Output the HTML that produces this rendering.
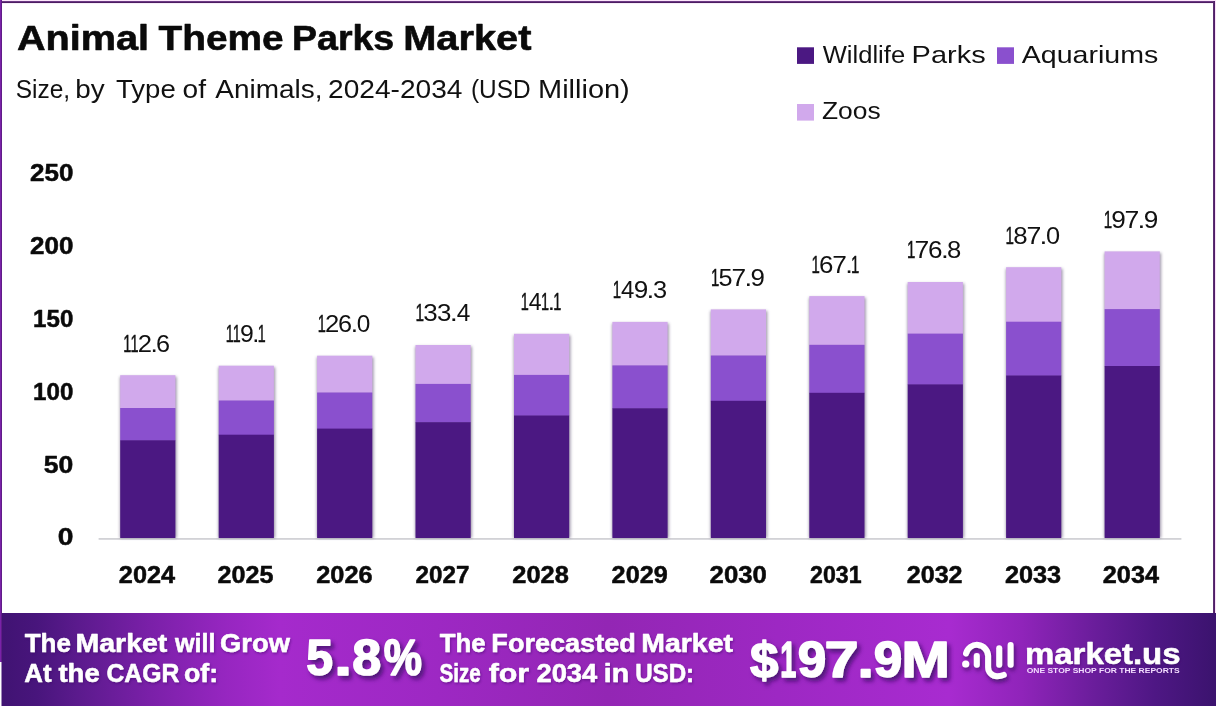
<!DOCTYPE html>
<html lang="en"><head><meta charset="utf-8"><title>Animal Theme Parks Market</title>
<style>html,body{margin:0;padding:0;background:#fff}body{width:1216px;height:708px;overflow:hidden;font-family:"Liberation Sans",sans-serif}svg{display:block}text{font-family:"Liberation Sans",sans-serif}</style>
</head><body>
<svg width="1216" height="708" viewBox="0 0 1216 708">
<defs>
<linearGradient id="fg" x1="0" y1="0" x2="1216" y2="0" gradientUnits="userSpaceOnUse">
<stop offset="0" stop-color="#401372"/>
<stop offset="0.03" stop-color="#48157c"/>
<stop offset="0.062" stop-color="#5a1a8c"/>
<stop offset="0.123" stop-color="#7a20a8"/>
<stop offset="0.185" stop-color="#9626c0"/>
<stop offset="0.23" stop-color="#a52acc"/>
<stop offset="0.36" stop-color="#9d28c3"/>
<stop offset="0.5" stop-color="#9326b4"/>
<stop offset="0.64" stop-color="#9d28c3"/>
<stop offset="0.78" stop-color="#a82bd0"/>
<stop offset="0.84" stop-color="#9024ba"/>
<stop offset="0.90" stop-color="#6a1d9b"/>
<stop offset="0.95" stop-color="#4e1784"/>
<stop offset="1" stop-color="#3b136e"/>
</linearGradient>
<filter id="bs" x="-20%" y="-5%" width="140%" height="110%"><feGaussianBlur stdDeviation="1.6"/></filter>
<filter id="ts" x="-10%" y="-20%" width="120%" height="150%"><feDropShadow dx="3" dy="3.5" stdDeviation="2.2" flood-color="#3a0d66" flood-opacity="0.8"/></filter>
<filter id="fs" x="-5%" y="-20%" width="110%" height="150%"><feDropShadow dx="1" dy="1.5" stdDeviation="1.3" flood-color="#3a0d66" flood-opacity="0.45"/></filter>
<filter id="ls" x="-20%" y="-20%" width="140%" height="160%"><feDropShadow dx="1.5" dy="3" stdDeviation="2.2" flood-color="#2e0a55" flood-opacity="0.7"/></filter>
</defs>
<rect x="0" y="0" width="1216" height="708" fill="#ffffff"/>
<rect x="0" y="0" width="1216" height="1" fill="#fde6fb"/>
<rect x="0" y="1" width="1215" height="1" fill="#6c3a84"/>
<rect x="0" y="2" width="1215" height="1" fill="#4d1c63"/>
<rect x="2" y="3" width="1211" height="1" fill="#f6eef8"/>
<rect x="1213" y="1" width="1" height="612" fill="#5c2f72"/>
<rect x="1214" y="1" width="1" height="612" fill="#4f1e68"/>
<rect x="1215" y="0" width="1" height="613" fill="#fbe0fa"/>
<text y="49.8" font-size="34.3" font-weight="700" fill="#0a0a0a" stroke="#0a0a0a" stroke-width="0.6" stroke-linejoin="round"><tspan x="16.91" textLength="132.09" lengthAdjust="spacingAndGlyphs">Animal</tspan> <tspan x="158.56" textLength="125.16" lengthAdjust="spacingAndGlyphs">Theme</tspan> <tspan x="291.99" textLength="102.25" lengthAdjust="spacingAndGlyphs">Parks</tspan> <tspan x="403.24" textLength="128.25" lengthAdjust="spacingAndGlyphs">Market</tspan></text>
<text y="97.5" font-size="25.1" font-weight="400" fill="#111" ><tspan x="15.69" textLength="54.41" lengthAdjust="spacingAndGlyphs">Size,</tspan> <tspan x="75.30" textLength="29.45" lengthAdjust="spacingAndGlyphs">by</tspan> <tspan x="116.00" textLength="59.70" lengthAdjust="spacingAndGlyphs">Type</tspan> <tspan x="182.52" textLength="23.44" lengthAdjust="spacingAndGlyphs">of</tspan> <tspan x="215.25" textLength="107.27" lengthAdjust="spacingAndGlyphs">Animals,</tspan> <tspan x="328.09" textLength="134.44" lengthAdjust="spacingAndGlyphs">2024-2034</tspan> <tspan x="470.99" textLength="59.68" lengthAdjust="spacingAndGlyphs">(USD</tspan> <tspan x="538.02" textLength="91.77" lengthAdjust="spacingAndGlyphs">Million)</tspan></text>
<rect x="797" y="47.3" width="17" height="16.6" fill="#4b1882"/>
<rect x="997" y="47.3" width="17" height="16.6" fill="#8a50ce"/>
<rect x="797" y="104" width="17" height="16.6" fill="#d1a9ec"/>
<text y="62.9" font-size="24.6" font-weight="400" fill="#111" ><tspan x="822.69" textLength="82.45" lengthAdjust="spacingAndGlyphs">Wildlife</tspan> <tspan x="911.62" textLength="74.02" lengthAdjust="spacingAndGlyphs">Parks</tspan></text>
<text y="62.9" font-size="24.6" font-weight="400" fill="#111" ><tspan x="1021.74" textLength="136.59" lengthAdjust="spacingAndGlyphs">Aquariums</tspan></text>
<text y="119.1" font-size="24.6" font-weight="400" fill="#111" ><tspan x="821.96" textLength="58.69" lengthAdjust="spacingAndGlyphs">Zoos</tspan></text>
<text y="180.7" font-size="23.6" font-weight="700" fill="#0a0a0a" stroke="#0a0a0a" stroke-width="0.5" stroke-linejoin="round"><tspan x="30.00" textLength="43.37" lengthAdjust="spacingAndGlyphs">250</tspan></text>
<text y="253.6" font-size="23.6" font-weight="700" fill="#0a0a0a" stroke="#0a0a0a" stroke-width="0.5" stroke-linejoin="round"><tspan x="30.00" textLength="43.37" lengthAdjust="spacingAndGlyphs">200</tspan></text>
<text y="326.7" font-size="23.6" font-weight="700" fill="#0a0a0a" stroke="#0a0a0a" stroke-width="0.5" stroke-linejoin="round"><tspan x="33.08" textLength="40.21" lengthAdjust="spacingAndGlyphs">150</tspan></text>
<text y="399.7" font-size="23.6" font-weight="700" fill="#0a0a0a" stroke="#0a0a0a" stroke-width="0.5" stroke-linejoin="round"><tspan x="33.08" textLength="40.21" lengthAdjust="spacingAndGlyphs">100</tspan></text>
<text y="472.5" font-size="23.6" font-weight="700" fill="#0a0a0a" stroke="#0a0a0a" stroke-width="0.5" stroke-linejoin="round"><tspan x="43.88" textLength="29.50" lengthAdjust="spacingAndGlyphs">50</tspan></text>
<text y="544.6" font-size="23.6" font-weight="700" fill="#0a0a0a" stroke="#0a0a0a" stroke-width="0.5" stroke-linejoin="round"><tspan x="57.79" textLength="15.67" lengthAdjust="spacingAndGlyphs">0</tspan></text>
<rect x="98.6" y="538" width="1082.8" height="1.8" fill="#d2d2d6"/>
<rect x="119.9" y="376.7" width="56.8" height="161.3" fill="#655878" opacity="0.62" filter="url(#bs)"/>
<rect x="120.2" y="375.2" width="55.2" height="33.3" fill="#d1a9ec"/>
<rect x="120.2" y="408.0" width="55.2" height="32.8" fill="#8a50ce"/>
<rect x="120.2" y="440.3" width="55.2" height="97.7" fill="#4b1882"/>
<text y="351.6" font-size="23.6" font-weight="400" fill="#111" ><tspan x="123.34" textLength="8.09" lengthAdjust="spacingAndGlyphs" stroke="#111" stroke-width="0.5">1</tspan><tspan x="130.52" textLength="8.09" lengthAdjust="spacingAndGlyphs" stroke="#111" stroke-width="0.5">1</tspan><tspan x="137.76" textLength="14.25" lengthAdjust="spacingAndGlyphs">2</tspan><tspan x="150.42" textLength="7.32" lengthAdjust="spacingAndGlyphs">.</tspan><tspan x="156.14" textLength="14.07" lengthAdjust="spacingAndGlyphs">6</tspan></text>
<text y="582.6" font-size="23.6" font-weight="700" fill="#0a0a0a" stroke="#0a0a0a" stroke-width="0.5" stroke-linejoin="round"><tspan x="118.82" textLength="56.31" lengthAdjust="spacingAndGlyphs">2024</tspan></text>
<rect x="218.4" y="367.2" width="56.8" height="170.8" fill="#655878" opacity="0.62" filter="url(#bs)"/>
<rect x="218.7" y="365.7" width="55.2" height="35.2" fill="#d1a9ec"/>
<rect x="218.7" y="400.5" width="55.2" height="34.7" fill="#8a50ce"/>
<rect x="218.7" y="434.7" width="55.2" height="103.3" fill="#4b1882"/>
<text y="342.1" font-size="23.6" font-weight="400" fill="#111" ><tspan x="225.66" textLength="7.93" lengthAdjust="spacingAndGlyphs" stroke="#111" stroke-width="0.5">1</tspan><tspan x="232.71" textLength="7.93" lengthAdjust="spacingAndGlyphs" stroke="#111" stroke-width="0.5">1</tspan><tspan x="239.94" textLength="13.78" lengthAdjust="spacingAndGlyphs">9</tspan><tspan x="252.32" textLength="7.04" lengthAdjust="spacingAndGlyphs">.</tspan><tspan x="257.82" textLength="7.93" lengthAdjust="spacingAndGlyphs" stroke="#111" stroke-width="0.5">1</tspan></text>
<text y="582.6" font-size="23.6" font-weight="700" fill="#0a0a0a" stroke="#0a0a0a" stroke-width="0.5" stroke-linejoin="round"><tspan x="217.53" textLength="55.87" lengthAdjust="spacingAndGlyphs">2025</tspan></text>
<rect x="316.8" y="357.2" width="56.8" height="180.8" fill="#655878" opacity="0.62" filter="url(#bs)"/>
<rect x="317.1" y="355.7" width="55.2" height="37.2" fill="#d1a9ec"/>
<rect x="317.1" y="392.5" width="55.2" height="36.7" fill="#8a50ce"/>
<rect x="317.1" y="428.6" width="55.2" height="109.4" fill="#4b1882"/>
<text y="332.1" font-size="23.6" font-weight="400" fill="#111" ><tspan x="317.74" textLength="8.09" lengthAdjust="spacingAndGlyphs" stroke="#111" stroke-width="0.5">1</tspan><tspan x="324.99" textLength="14.25" lengthAdjust="spacingAndGlyphs">2</tspan><tspan x="338.06" textLength="14.07" lengthAdjust="spacingAndGlyphs">6</tspan><tspan x="350.72" textLength="7.32" lengthAdjust="spacingAndGlyphs">.</tspan><tspan x="356.77" textLength="13.58" lengthAdjust="spacingAndGlyphs">0</tspan></text>
<text y="582.6" font-size="23.6" font-weight="700" fill="#0a0a0a" stroke="#0a0a0a" stroke-width="0.5" stroke-linejoin="round"><tspan x="316.22" textLength="56.39" lengthAdjust="spacingAndGlyphs">2026</tspan></text>
<rect x="415.2" y="346.5" width="56.8" height="191.5" fill="#655878" opacity="0.62" filter="url(#bs)"/>
<rect x="415.5" y="345.0" width="55.2" height="39.4" fill="#d1a9ec"/>
<rect x="415.5" y="383.9" width="55.2" height="38.8" fill="#8a50ce"/>
<rect x="415.5" y="422.2" width="55.2" height="115.8" fill="#4b1882"/>
<text y="321.4" font-size="23.6" font-weight="400" fill="#111" ><tspan x="415.38" textLength="8.54" lengthAdjust="spacingAndGlyphs" stroke="#111" stroke-width="0.5">1</tspan><tspan x="423.33" textLength="14.43" lengthAdjust="spacingAndGlyphs">3</tspan><tspan x="437.04" textLength="14.43" lengthAdjust="spacingAndGlyphs">3</tspan><tspan x="449.78" textLength="8.07" lengthAdjust="spacingAndGlyphs">.</tspan><tspan x="456.74" textLength="13.58" lengthAdjust="spacingAndGlyphs">4</tspan></text>
<text y="582.6" font-size="23.6" font-weight="700" fill="#0a0a0a" stroke="#0a0a0a" stroke-width="0.5" stroke-linejoin="round"><tspan x="415.56" textLength="53.90" lengthAdjust="spacingAndGlyphs">2027</tspan></text>
<rect x="513.7" y="335.3" width="56.8" height="202.7" fill="#655878" opacity="0.62" filter="url(#bs)"/>
<rect x="514.0" y="333.8" width="55.2" height="41.6" fill="#d1a9ec"/>
<rect x="514.0" y="374.9" width="55.2" height="41.0" fill="#8a50ce"/>
<rect x="514.0" y="415.5" width="55.2" height="122.5" fill="#4b1882"/>
<text y="310.2" font-size="23.6" font-weight="400" fill="#111" ><tspan x="520.75" textLength="8.05" lengthAdjust="spacingAndGlyphs" stroke="#111" stroke-width="0.5">1</tspan><tspan x="528.71" textLength="12.81" lengthAdjust="spacingAndGlyphs">4</tspan><tspan x="540.89" textLength="8.05" lengthAdjust="spacingAndGlyphs" stroke="#111" stroke-width="0.5">1</tspan><tspan x="547.70" textLength="7.24" lengthAdjust="spacingAndGlyphs">.</tspan><tspan x="553.31" textLength="8.05" lengthAdjust="spacingAndGlyphs" stroke="#111" stroke-width="0.5">1</tspan></text>
<text y="582.6" font-size="23.6" font-weight="700" fill="#0a0a0a" stroke="#0a0a0a" stroke-width="0.5" stroke-linejoin="round"><tspan x="512.32" textLength="56.56" lengthAdjust="spacingAndGlyphs">2028</tspan></text>
<rect x="612.1" y="323.4" width="56.8" height="214.6" fill="#655878" opacity="0.62" filter="url(#bs)"/>
<rect x="612.4" y="321.9" width="55.2" height="44.0" fill="#d1a9ec"/>
<rect x="612.4" y="365.4" width="55.2" height="43.4" fill="#8a50ce"/>
<rect x="612.4" y="408.3" width="55.2" height="129.7" fill="#4b1882"/>
<text y="298.3" font-size="23.6" font-weight="400" fill="#111" ><tspan x="612.80" textLength="8.36" lengthAdjust="spacingAndGlyphs" stroke="#111" stroke-width="0.5">1</tspan><tspan x="621.03" textLength="13.30" lengthAdjust="spacingAndGlyphs">4</tspan><tspan x="633.81" textLength="14.51" lengthAdjust="spacingAndGlyphs">9</tspan><tspan x="646.63" textLength="7.77" lengthAdjust="spacingAndGlyphs">.</tspan><tspan x="652.98" textLength="14.14" lengthAdjust="spacingAndGlyphs">3</tspan></text>
<text y="582.6" font-size="23.6" font-weight="700" fill="#0a0a0a" stroke="#0a0a0a" stroke-width="0.5" stroke-linejoin="round"><tspan x="611.63" textLength="56.11" lengthAdjust="spacingAndGlyphs">2029</tspan></text>
<rect x="710.5" y="310.9" width="56.8" height="227.1" fill="#655878" opacity="0.62" filter="url(#bs)"/>
<rect x="710.8" y="309.4" width="55.2" height="46.5" fill="#d1a9ec"/>
<rect x="710.8" y="355.5" width="55.2" height="45.9" fill="#8a50ce"/>
<rect x="710.8" y="400.8" width="55.2" height="137.2" fill="#4b1882"/>
<text y="285.8" font-size="23.6" font-weight="400" fill="#111" ><tspan x="710.91" textLength="8.29" lengthAdjust="spacingAndGlyphs" stroke="#111" stroke-width="0.5">1</tspan><tspan x="718.62" textLength="14.02" lengthAdjust="spacingAndGlyphs">5</tspan><tspan x="731.63" textLength="14.62" lengthAdjust="spacingAndGlyphs">7</tspan><tspan x="744.52" textLength="7.65" lengthAdjust="spacingAndGlyphs">.</tspan><tspan x="750.54" textLength="14.39" lengthAdjust="spacingAndGlyphs">9</tspan></text>
<text y="582.6" font-size="23.6" font-weight="700" fill="#0a0a0a" stroke="#0a0a0a" stroke-width="0.5" stroke-linejoin="round"><tspan x="709.61" textLength="57.25" lengthAdjust="spacingAndGlyphs">2030</tspan></text>
<rect x="809.0" y="297.6" width="56.8" height="240.4" fill="#655878" opacity="0.62" filter="url(#bs)"/>
<rect x="809.3" y="296.1" width="55.2" height="49.2" fill="#d1a9ec"/>
<rect x="809.3" y="344.8" width="55.2" height="48.5" fill="#8a50ce"/>
<rect x="809.3" y="392.8" width="55.2" height="145.2" fill="#4b1882"/>
<text y="272.5" font-size="23.6" font-weight="400" fill="#111" ><tspan x="811.61" textLength="8.30" lengthAdjust="spacingAndGlyphs" stroke="#111" stroke-width="0.5">1</tspan><tspan x="819.02" textLength="14.41" lengthAdjust="spacingAndGlyphs">6</tspan><tspan x="832.34" textLength="14.63" lengthAdjust="spacingAndGlyphs">7</tspan><tspan x="845.23" textLength="7.65" lengthAdjust="spacingAndGlyphs">.</tspan><tspan x="851.08" textLength="8.30" lengthAdjust="spacingAndGlyphs" stroke="#111" stroke-width="0.5">1</tspan></text>
<text y="582.6" font-size="23.6" font-weight="700" fill="#0a0a0a" stroke="#0a0a0a" stroke-width="0.5" stroke-linejoin="round"><tspan x="810.10" textLength="51.45" lengthAdjust="spacingAndGlyphs">2031</tspan></text>
<rect x="907.4" y="283.5" width="56.8" height="254.5" fill="#655878" opacity="0.62" filter="url(#bs)"/>
<rect x="907.7" y="282.0" width="55.2" height="52.1" fill="#d1a9ec"/>
<rect x="907.7" y="333.6" width="55.2" height="51.3" fill="#8a50ce"/>
<rect x="907.7" y="384.4" width="55.2" height="153.6" fill="#4b1882"/>
<text y="258.4" font-size="23.6" font-weight="400" fill="#111" ><tspan x="907.10" textLength="8.36" lengthAdjust="spacingAndGlyphs" stroke="#111" stroke-width="0.5">1</tspan><tspan x="914.52" textLength="14.74" lengthAdjust="spacingAndGlyphs">7</tspan><tspan x="928.01" textLength="14.53" lengthAdjust="spacingAndGlyphs">6</tspan><tspan x="940.93" textLength="7.77" lengthAdjust="spacingAndGlyphs">.</tspan><tspan x="947.13" textLength="14.28" lengthAdjust="spacingAndGlyphs">8</tspan></text>
<text y="582.6" font-size="23.6" font-weight="700" fill="#0a0a0a" stroke="#0a0a0a" stroke-width="0.5" stroke-linejoin="round"><tspan x="906.73" textLength="55.88" lengthAdjust="spacingAndGlyphs">2032</tspan></text>
<rect x="1005.8" y="268.7" width="56.8" height="269.3" fill="#655878" opacity="0.62" filter="url(#bs)"/>
<rect x="1006.1" y="267.2" width="55.2" height="55.0" fill="#d1a9ec"/>
<rect x="1006.1" y="321.7" width="55.2" height="54.2" fill="#8a50ce"/>
<rect x="1006.1" y="375.5" width="55.2" height="162.5" fill="#4b1882"/>
<text y="243.6" font-size="23.6" font-weight="400" fill="#111" ><tspan x="1005.60" textLength="8.42" lengthAdjust="spacingAndGlyphs" stroke="#111" stroke-width="0.5">1</tspan><tspan x="1013.30" textLength="14.37" lengthAdjust="spacingAndGlyphs">8</tspan><tspan x="1026.58" textLength="14.84" lengthAdjust="spacingAndGlyphs">7</tspan><tspan x="1039.60" textLength="7.86" lengthAdjust="spacingAndGlyphs">.</tspan><tspan x="1045.98" textLength="14.11" lengthAdjust="spacingAndGlyphs">0</tspan></text>
<text y="582.6" font-size="23.6" font-weight="700" fill="#0a0a0a" stroke="#0a0a0a" stroke-width="0.5" stroke-linejoin="round"><tspan x="1004.92" textLength="56.29" lengthAdjust="spacingAndGlyphs">2033</tspan></text>
<rect x="1104.3" y="252.9" width="56.8" height="285.1" fill="#655878" opacity="0.62" filter="url(#bs)"/>
<rect x="1104.6" y="251.4" width="55.2" height="58.2" fill="#d1a9ec"/>
<rect x="1104.6" y="309.1" width="55.2" height="57.3" fill="#8a50ce"/>
<rect x="1104.6" y="366.0" width="55.2" height="172.0" fill="#4b1882"/>
<text y="227.8" font-size="23.6" font-weight="400" fill="#111" ><tspan x="1103.70" textLength="8.38" lengthAdjust="spacingAndGlyphs" stroke="#111" stroke-width="0.5">1</tspan><tspan x="1111.27" textLength="14.54" lengthAdjust="spacingAndGlyphs">9</tspan><tspan x="1124.61" textLength="14.78" lengthAdjust="spacingAndGlyphs">7</tspan><tspan x="1137.59" textLength="7.80" lengthAdjust="spacingAndGlyphs">.</tspan><tspan x="1143.70" textLength="14.54" lengthAdjust="spacingAndGlyphs">9</tspan></text>
<text y="582.6" font-size="23.6" font-weight="700" fill="#0a0a0a" stroke="#0a0a0a" stroke-width="0.5" stroke-linejoin="round"><tspan x="1102.82" textLength="56.21" lengthAdjust="spacingAndGlyphs">2034</tspan></text>
<rect x="0" y="613" width="1216" height="93" fill="url(#fg)"/>
<rect x="0" y="0" width="1" height="662" fill="#7a22a8"/>
<rect x="1" y="0" width="1" height="662" fill="#601c88"/>
<rect x="0" y="662" width="1.5" height="46" fill="#ffffff"/>
<text y="651.5" font-size="24.9" font-weight="700" fill="#fff" stroke="#fff" stroke-width="0.5" stroke-linejoin="round" filter="url(#fs)"><tspan x="24.71" textLength="46.18" lengthAdjust="spacingAndGlyphs">The</tspan> <tspan x="75.60" textLength="91.75" lengthAdjust="spacingAndGlyphs">Market</tspan> <tspan x="175.07" textLength="40.45" lengthAdjust="spacingAndGlyphs">will</tspan> <tspan x="220.13" textLength="69.82" lengthAdjust="spacingAndGlyphs">Grow</tspan></text>
<text y="681.6" font-size="24.9" font-weight="700" fill="#fff" stroke="#fff" stroke-width="0.5" stroke-linejoin="round" filter="url(#fs)"><tspan x="24.36" textLength="27.21" lengthAdjust="spacingAndGlyphs">At</tspan> <tspan x="58.41" textLength="41.28" lengthAdjust="spacingAndGlyphs">the</tspan> <tspan x="106.49" textLength="72.77" lengthAdjust="spacingAndGlyphs">CAGR</tspan> <tspan x="183.96" textLength="34.11" lengthAdjust="spacingAndGlyphs">of:</tspan></text>
<text y="675.3" font-size="49.3" font-weight="700" fill="#fff" filter="url(#ts)" stroke="#fff" stroke-width="1.5" stroke-linejoin="round"><tspan x="306.32" textLength="26.71" lengthAdjust="spacingAndGlyphs">5</tspan><tspan x="334.17" textLength="17.72" lengthAdjust="spacingAndGlyphs">.</tspan><tspan x="352.15" textLength="28.95" lengthAdjust="spacingAndGlyphs">8</tspan><tspan x="383.83" textLength="38.20" lengthAdjust="spacingAndGlyphs">%</tspan></text>
<text y="652.4" font-size="24.9" font-weight="700" fill="#fff" stroke="#fff" stroke-width="0.5" stroke-linejoin="round" filter="url(#fs)"><tspan x="439.71" textLength="45.87" lengthAdjust="spacingAndGlyphs">The</tspan> <tspan x="491.39" textLength="144.39" lengthAdjust="spacingAndGlyphs">Forecasted</tspan> <tspan x="641.30" textLength="91.65" lengthAdjust="spacingAndGlyphs">Market</tspan></text>
<text y="682.3" font-size="24.9" font-weight="700" fill="#fff" stroke="#fff" stroke-width="0.5" stroke-linejoin="round" filter="url(#fs)"><tspan x="439.41" textLength="41.30" lengthAdjust="spacingAndGlyphs">Size</tspan> <tspan x="488.68" textLength="40.48" lengthAdjust="spacingAndGlyphs">for</tspan> <tspan x="536.45" textLength="60.79" lengthAdjust="spacingAndGlyphs">2034</tspan> <tspan x="603.81" textLength="25.36" lengthAdjust="spacingAndGlyphs">in</tspan> <tspan x="635.15" textLength="58.97" lengthAdjust="spacingAndGlyphs">USD:</tspan></text>
<text y="677" font-size="49.5" font-weight="700" fill="#fff" filter="url(#ts)" stroke="#fff" stroke-width="1.5" stroke-linejoin="round"><tspan x="750.03" textLength="28.40" lengthAdjust="spacingAndGlyphs">$</tspan><tspan x="780.19" textLength="16.02" lengthAdjust="spacingAndGlyphs">1</tspan><tspan x="797.73" textLength="28.47" lengthAdjust="spacingAndGlyphs">9</tspan><tspan x="824.56" textLength="34.13" lengthAdjust="spacingAndGlyphs">7</tspan><tspan x="857.61" textLength="16.34" lengthAdjust="spacingAndGlyphs">.</tspan><tspan x="873.73" textLength="28.47" lengthAdjust="spacingAndGlyphs">9</tspan><tspan x="901.42" textLength="48.37" lengthAdjust="spacingAndGlyphs">M</tspan></text>
<g filter="url(#ls)" fill="none" stroke="#fff" stroke-width="6" stroke-linecap="round" stroke-linejoin="round">
<circle cx="965.7" cy="664" r="3.6" fill="#fff" stroke="none"/>
<path d="M966 653.5 A11.2 11.2 0 0 1 988.1 656.1 L988.1 667.2 A9 9 0 0 0 997.1 676.2 Q1001 676.2 1003.8 674.9"/>
<path d="M976.8 656 L976.8 664.7"/>
<path d="M999.2 648.3 L999.2 664.7"/>
<path d="M1010.6 645 L1010.6 664.7"/>
</g>
<text y="663.5" font-size="29.2" font-weight="700" fill="#fff" stroke="#fff" stroke-width="0.5" stroke-linejoin="round" filter="url(#fs)"><tspan x="1025.03" textLength="155.52" lengthAdjust="spacingAndGlyphs">market.us</tspan></text>
<text y="673.4" font-size="7.1" font-weight="700" fill="#f3dcff" ><tspan x="1026.65" textLength="153.08" lengthAdjust="spacingAndGlyphs">ONE STOP SHOP FOR THE REPORTS</tspan></text>
</svg></body></html>
